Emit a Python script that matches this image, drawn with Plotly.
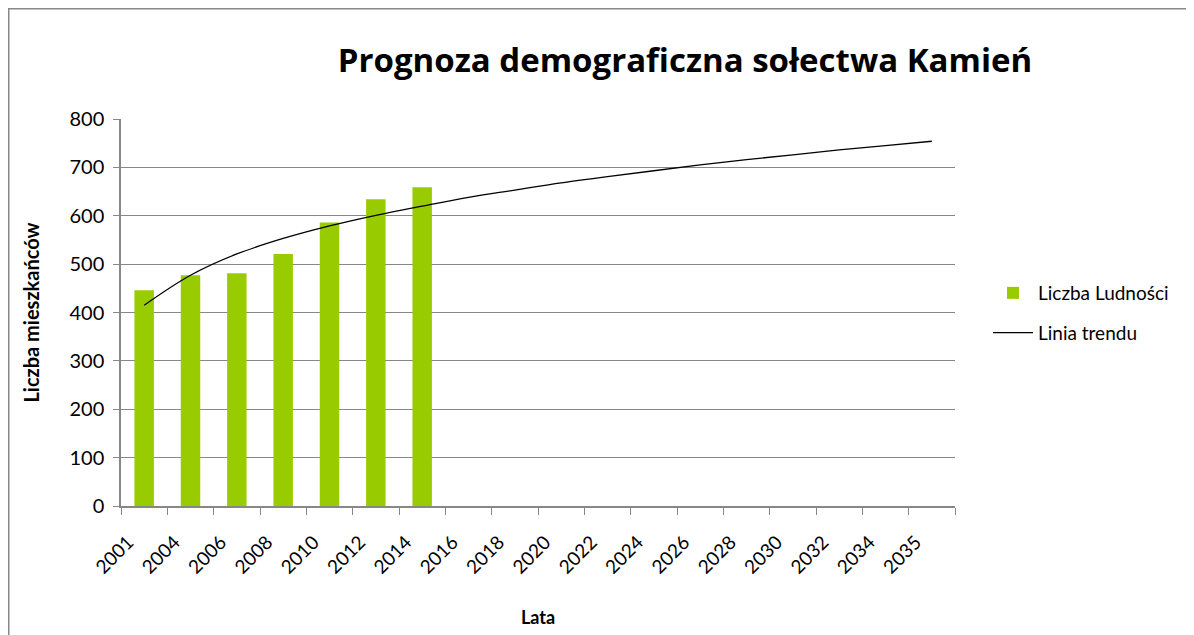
import plotly.graph_objects as go

# Category labels on the x axis
years = ["2001", "2004", "2006", "2008", "2010", "2012", "2014", "2016", "2018",
         "2020", "2022", "2024", "2026", "2028", "2030", "2032", "2034", "2035"]

# Population (bars) - only known years
bar_years = years[:7]
population = [446, 477, 481, 521, 586, 634, 659]

# Trend line values at each category
trend = [415, 477, 521, 553, 579, 601, 620, 638, 653, 668, 681, 693, 705,
         716, 726, 736, 745, 754]

FONT = "Lato"
GRID = "#878787"
W, H = 1194, 635

fig = go.Figure()

fig.add_trace(go.Bar(
    x=bar_years,
    y=population,
    name="Liczba Ludności",
    legendgroup="a",
    marker=dict(color="#99CC00", line=dict(width=0)),
    width=0.42,
))

fig.add_trace(go.Scatter(
    x=years,
    y=trend,
    mode="lines",
    name="Linia trendu",
    legendgroup="b",
    line=dict(color="black", width=1.3, shape="spline"),
))

# plot area in page pixels (the page body adds an 8px offset)
L, T = 113, 111
R, B = W - 947, H - 498
pw, ph = W - L - R, H - T - B

# chart border (top and left only, the rest is cropped away)
shapes = [
    dict(type="line", xref="paper", yref="paper",
         x0=(0 - L) / pw, x1=(W - L) / pw, y0=(H - 0.5 - B) / ph, y1=(H - 0.5 - B) / ph,
         line=dict(color="#888888", width=2)),
    dict(type="line", xref="paper", yref="paper",
         x0=(0.5 - L) / pw, x1=(0.5 - L) / pw, y0=(0 - B) / ph, y1=(H - B) / ph,
         line=dict(color="#888888", width=2)),
]

fig.update_layout(
    width=W,
    height=H,
    margin=dict(l=L, r=R, t=T, b=B, autoexpand=False),
    plot_bgcolor="white",
    paper_bgcolor="white",
    font=dict(family=FONT, size=19, color="black"),
    title=dict(
        text="<b>Prognoza demograficzna sołectwa Kamień</b>",
        x=677 / W, xanchor="center", xref="container",
        y=1 - 52 / H, yanchor="middle", yref="container",
        font=dict(family="Open Sans", size=33, color="black"),
    ),
    showlegend=True,
    legend=dict(
        x=(980 - L) / pw, xanchor="left",
        y=(H - 305 - B) / ph, yanchor="middle",
        font=dict(family=FONT, size=19, color="black"),
        itemwidth=40,
        tracegroupgap=12,
        bgcolor="rgba(0,0,0,0)",
    ),
    bargap=0.58,
    shapes=shapes,
)

fig.update_xaxes(
    type="category",
    categoryorder="array",
    categoryarray=years,
    range=[-0.5, len(years) - 0.5],
    tickson="boundaries",
    ticks="outside",
    ticklen=7,
    tickcolor=GRID,
    tickangle=-45,
    tickfont=dict(size=19),
    ticklabelstandoff=16,
    ticklabelshift=-16,
    showline=True,
    linecolor=GRID,
    linewidth=1.5,
    showgrid=False,
    title=dict(text="<b>Lata</b>", font=dict(size=18), standoff=35),
)

fig.update_yaxes(
    range=[0, 800],
    dtick=100,
    ticks="outside",
    ticklen=6,
    tickcolor=GRID,
    tickfont=dict(size=20),
    ticklabelstandoff=5,
    showline=True,
    linecolor=GRID,
    linewidth=1.5,
    showgrid=True,
    gridcolor=GRID,
    gridwidth=1.2,
    zeroline=False,
    title=dict(text="<b>Liczba mieszkańców</b>", font=dict(size=20), standoff=24),
)

fig.write_html("out.html")
